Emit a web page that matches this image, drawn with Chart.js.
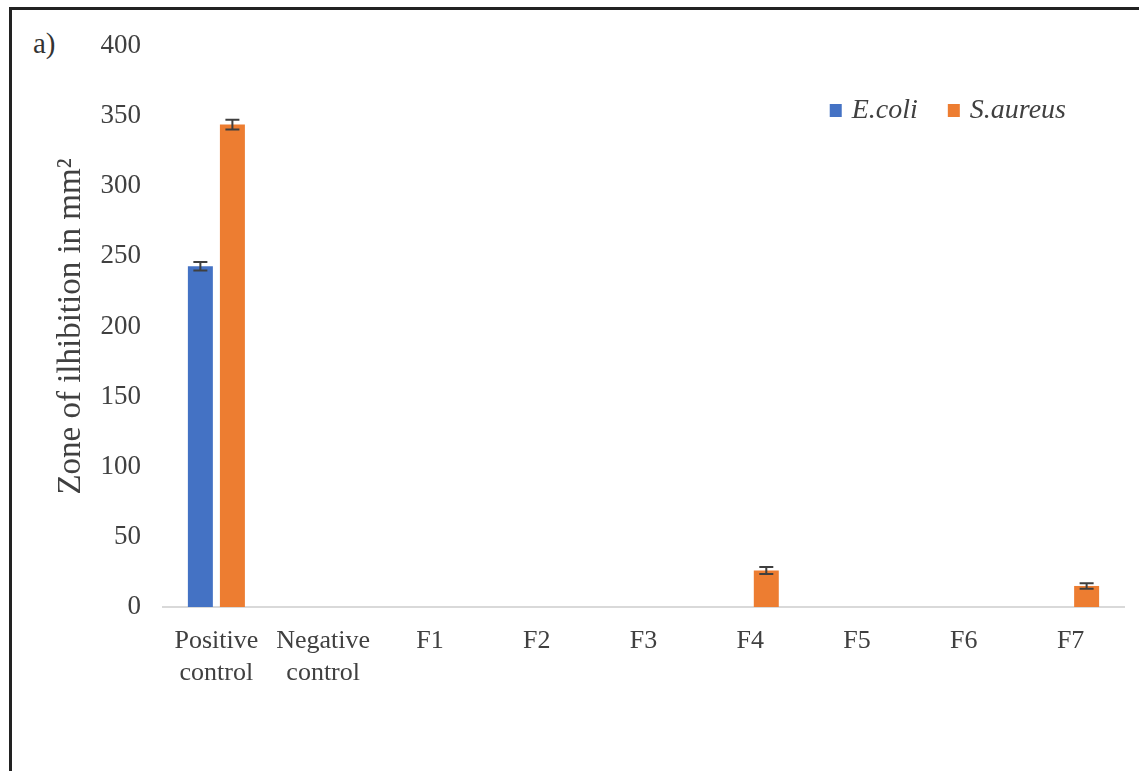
<!DOCTYPE html>
<html>
<head>
<meta charset="utf-8">
<script src="https://cdn.jsdelivr.net/npm/chart.js@4.4.1/dist/chart.umd.min.js"></script>
<style>
  html, body { margin: 0; padding: 0; background: #fff; overflow: hidden; }
  #wrap { position: relative; width: 1139px; height: 771px; }
  #frame { position: absolute; left: 9px; top: 7px; width: 1200px; height: 800px; border: 3px solid #222; box-sizing: border-box; }
  #tag { position: absolute; left: 33px; top: 27px; font: 29px "Liberation Serif", serif; color: #333; }
  canvas { position: absolute; left: 0; top: 0; }
</style>
</head>
<body>
<div id="wrap">
  <div id="frame"></div>
  <div id="tag">a)</div>
  <canvas id="chart" width="1139" height="771"></canvas>
</div>
<script>
const categories = [['Positive', 'control'], ['Negative', 'control'], 'F1', 'F2', 'F3', 'F4', 'F5', 'F6', 'F7'];
const ecoli = [243, 0, 0, 0, 0, 0, 0, 0, 0];
const ecoliErr = [3, 0, 0, 0, 0, 0, 0, 0, 0];
const saureus = [344, 0, 0, 0, 0, 26, 0, 0, 15];
const saureusErr = [3.5, 0, 0, 0, 0, 2.5, 0, 0, 2];
const yTicks = [0, 50, 100, 150, 200, 250, 300, 350, 400];

const SERIF = '"Liberation Serif", "Times New Roman", serif';
const TEXT = '#404040';

// draws the error bars on top of each bar
const errorBars = {
  id: 'errorBars',
  afterDatasetsDraw(chart) {
    const ctx = chart.ctx;
    const y = chart.scales.y;
    chart.data.datasets.forEach((ds, i) => {
      const meta = chart.getDatasetMeta(i);
      meta.data.forEach((bar, j) => {
        const v = ds.data[j];
        const e = ds.errors[j];
        if (!v || !e) return;
        const top = y.getPixelForValue(v + e);
        const bot = y.getPixelForValue(v - e);
        ctx.save();
        ctx.strokeStyle = '#3f3f3f';
        ctx.lineWidth = 2;
        ctx.beginPath();
        ctx.moveTo(bar.x, top); ctx.lineTo(bar.x, bot);
        ctx.moveTo(bar.x - 7, top); ctx.lineTo(bar.x + 7, top);
        ctx.moveTo(bar.x - 7, bot); ctx.lineTo(bar.x + 7, bot);
        ctx.stroke();
        ctx.restore();
      });
    });
  }
};

// legend inside the plot, upper right, one row
const insideLegend = {
  id: 'insideLegend',
  afterDraw(chart) {
    const ctx = chart.ctx;
    const area = chart.chartArea;
    const box = 12, gap = 10, itemGap = 30;
    ctx.save();
    ctx.font = 'italic 28px ' + SERIF;
    ctx.textBaseline = 'middle';
    const items = chart.data.datasets.map(ds => ({
      text: ds.label,
      color: ds.backgroundColor,
      w: box + gap + ctx.measureText(ds.label).width
    }));
    const total = items.reduce((s, it) => s + it.w, 0) + itemGap * (items.length - 1);
    let x = area.right - 58 - total;
    const cy = area.top + 65;
    items.forEach(it => {
      ctx.fillStyle = it.color;
      ctx.fillRect(x, cy - 7, box, 13);
      ctx.fillStyle = TEXT;
      ctx.fillText(it.text, x + box + gap, cy);
      x += it.w + itemGap;
    });
    ctx.restore();
  }
};

new Chart(document.getElementById('chart'), {
  type: 'bar',
  data: {
    labels: categories,
    datasets: [
      { label: 'E.coli', data: ecoli, errors: ecoliErr, backgroundColor: '#4472C4' },
      { label: 'S.aureus', data: saureus, errors: saureusErr, backgroundColor: '#ED7D31' }
    ]
  },
  options: {
    responsive: false,
    animation: false,
    categoryPercentage: 0.6,
    barPercentage: 0.78,
    layout: { padding: { left: 23, right: 15, top: 46, bottom: 0 } },
    plugins: {
      tooltip: { enabled: false },
      legend: { display: false }
    },
    scales: {
      x: {
        grid: { display: false },
        border: { display: true, color: '#d9d9d9', width: 2 },
        ticks: {
          color: TEXT,
          padding: 11,
          maxRotation: 0,
          font: { family: SERIF, size: 26, lineHeight: 1.2 }
        },
        afterFit(scale) { scale.height = 164; }
      },
      y: {
        min: 0,
        max: 400,
        grid: { display: false, drawTicks: false },
        border: { display: false },
        afterBuildTicks(scale) { scale.ticks = yTicks.map(v => ({ value: v })); },
        ticks: {
          color: TEXT,
          padding: 22,
          font: { family: SERIF, size: 27 }
        },
        title: {
          display: true,
          text: 'Zone of ilhibition in mm\u00B2',
          color: TEXT,
          padding: { top: 29, bottom: 0 },
          font: { family: SERIF, size: 33 }
        },
        afterFit(scale) { scale.width = 140; }
      }
    }
  },
  plugins: [errorBars, insideLegend]
});
</script>
</body>
</html>
